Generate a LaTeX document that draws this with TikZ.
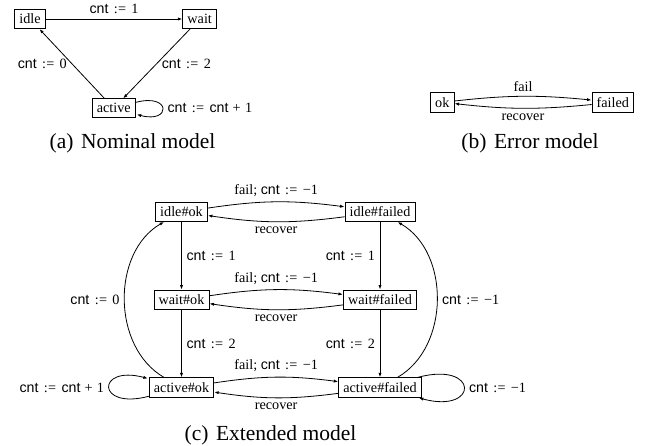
\documentclass[tikz,border=0pt]{standalone}
\usepackage{fontspec}
\setmainfont{Liberation Serif}
\setsansfont{Liberation Sans}
\usetikzlibrary{arrows.meta}
\newcommand{\nf}{\fontsize{14.2}{17}\selectfont}
\newcommand{\cf}{\fontsize{21.5}{26}\selectfont}
\newcommand{\cntv}{\textsf{cnt}}
\newcommand{\asgn}[1]{\cntv\hspace{0.38em}:\kern0.02em=\hspace{0.38em}#1}
\newcommand{\plusone}{\cntv\hspace{0.3em}+\hspace{0.3em}1}
\begin{document}
\begin{tikzpicture}[x=1pt,y=1pt,
  >={Latex[length=4.5pt,width=3.2pt]}, line width=0.8pt,
  every node/.style={font=\nf, inner sep=4.7pt},
  st/.style={draw},
  captxt/.style={font=\cf, anchor=base, inner sep=0pt}]
\useasboundingbox (0,0) rectangle (646,446);

% (a) Nominal model
\node[st] (idle) at (30,427) {idle};
\node[st] (wait) at (199.7,427) {wait};
\node[st] (active) at (113.7,337.7) {active};
\draw[->] (idle) -- node[above] {\asgn{1}} (wait);
\draw[->] (wait) -- node[right] {\asgn{2}} (active);
\draw[->] (active) -- node[left] {\asgn{0}} (idle);
\draw[->] (active) edge[loop right] node[right] {\asgn{\plusone}} (active);
\node[captxt] (capa) at (132.5,297.7) {(a)\hspace{0.35em}Nominal model};

% (b) Error model
\node[st] (ok) at (442.3,343.7) {ok};
\node[st] (failed) at (612.8,343.7) {failed};
\draw[->] (ok) to[bend left=6] node[above] {fail} (failed);
\draw[->] (failed) to[bend left=6] node[below] {recover} (ok);
\node[captxt] (capb) at (530,297.7) {(b)\hspace{0.35em}Error model};

% (c) Extended model
\node[st] (iok) at (181.5,234.2) {idle\#ok};
\node[st] (ifl) at (380,234.2) {idle\#failed};
\node[st] (wok) at (181.5,146.3) {wait\#ok};
\node[st] (wfl) at (380,146.3) {wait\#failed};
\node[st] (aok) at (181.5,58.5) {active\#ok};
\node[st] (afl) at (380,58.5) {active\#failed};

\draw[->] (iok) to[bend left=8] node[above] {fail; \asgn{−1}} (ifl);
\draw[->] (ifl) to[bend left=8] node[below] {recover} (iok);
\draw[->] (wok) to[bend left=8] node[above] {fail; \asgn{−1}} (wfl);
\draw[->] (wfl) to[bend left=8] node[below] {recover} (wok);
\draw[->] (aok) to[bend left=8] node[above] {fail; \asgn{−1}} (afl);
\draw[->] (afl) to[bend left=8] node[below] {recover} (aok);

\draw[->] (iok) -- node[right] {\asgn{1}} (wok);
\draw[->] (wok) -- node[right] {\asgn{2}} (aok);
\draw[->] (ifl) -- node[left] {\asgn{1}} (wfl);
\draw[->] (wfl) -- node[left] {\asgn{2}} (afl);

\draw[->] (aok) to[bend left=60] node[left] {\asgn{0}} (iok);
\draw[->] (afl) to[bend right=60] node[right] {\asgn{−1}} (ifl);

\draw[->] (aok) edge[loop left] node[left] {\asgn{\plusone}} (aok);
\draw[->] (afl) edge[loop right] node[right] {\asgn{−1}} (afl);

\node[captxt] (capc) at (270.5,5.5) {(c)\hspace{0.35em}Extended model};
\end{tikzpicture}
\end{document}
